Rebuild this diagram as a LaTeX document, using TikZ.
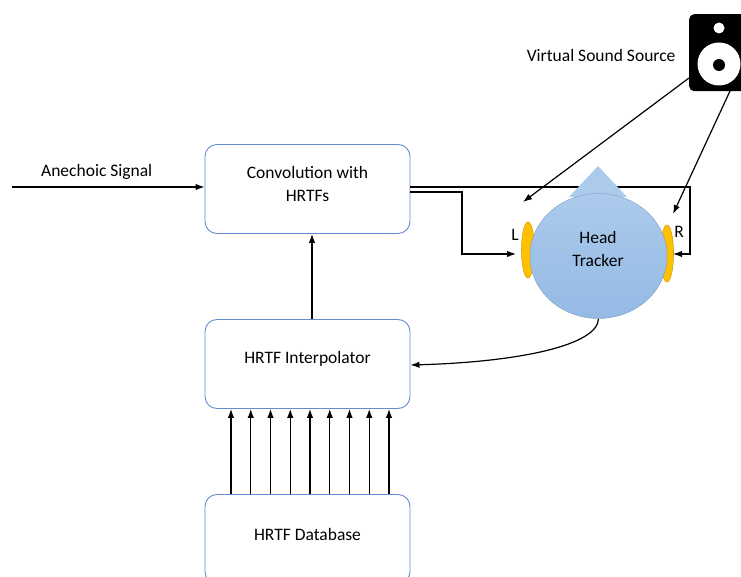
\documentclass[tikz,border=0pt]{standalone}
\usepackage{fontspec}
\setmainfont{Carlito}
\usetikzlibrary{positioning, arrows.meta, shapes.geometric}

\definecolor{boxblue}{RGB}{100,140,205}
\definecolor{headtop}{RGB}{172,202,236}
\definecolor{headbot}{RGB}{148,186,228}
\definecolor{earorange}{RGB}{255,192,0}
\definecolor{earedge}{RGB}{215,160,20}

\begin{document}
\begin{tikzpicture}[x=1pt, y=-1pt, node distance=175pt, on grid,
    font=\fontsize{17.5}{23}\selectfont,
    block/.style={draw=boxblue, line width=0.9pt, rounded corners=12pt,
      minimum width=205pt, minimum height=89pt},
    label text/.style={align=center, yshift=5pt},
    sig/.style={-{Latex[length=9pt, width=6.5pt]}, line width=1.2pt},
    ear/.style={fill=earorange, draw=earedge, line width=0.6pt}]
  \useasboundingbox (0,0) rectangle (741,577);

  \node[block] (conv) at (307.5,189) {};
  \node[block, below=of conv] (interp) {};
  \node[block, below=of interp] (db) {};
  \node[label text] at (conv.center) {Convolution with\\HRTFs};
  \node[label text] at (interp.center) {HRTF Interpolator};
  \node[label text] at (db.center) {HRTF Database};

  \coordinate (in) at (12,187);
  \draw[sig] (in) -- node[pos=0.44, yshift=15pt] {Anechoic Signal} (in -| conv.west);
  \draw[sig] (interp.north -| 312,0) -- (conv.south -| 312,0);
  \foreach \i in {0,...,8}
    \draw[sig] (db.north -| 231+19.75*\i,0) -- (interp.south -| 231+19.75*\i,0);

  % outputs to the ears, partly hidden by the head
  \draw[sig] ([yshift=2pt]conv.east) -- (690,187) -- (690,254) -- (673,254);
  \draw[sig] ([yshift=-3pt]conv.east) -- (462,192) -- (462,254) -- (516,254);

  % head with ears and nose
  \fill[headtop] (598,166) -- (569,197) -- (627,197) -- cycle;
  \draw[ear] (528,250) ellipse (6.5 and 28);
  \draw[ear] (667,253.5) ellipse (6.5 and 28.5);
  \node[ellipse, minimum width=137pt, minimum height=125pt,
    top color=headtop, bottom color=headbot, draw=headbot!85!black,
    line width=0.4pt, inner sep=0pt] (head) at (598.5,256) {};
  \node[align=center] (head text) at (598,249) {Head\\Tracker};
  \node (lab L) at (515,235) {L};
  \node (lab R) at (679,232) {R};

  % loudspeaker
  \node[fill=black, rounded corners=5pt, minimum width=62pt,
    minimum height=77pt, anchor=north west] (spk) at (689,14) {};
  \fill[white] (719,28) circle (5.5);
  \fill[white] (719,64) circle (21.5);
  \fill[black] (719,65) circle (6);
  \node[anchor=east] (vss) at (679,55) {Virtual Sound Source};

  \coordinate (earL) at (523,202);
  \coordinate (earR) at (673,214);
  \draw[sig] (689,78) -- (earL);
  \draw[sig] (730,91) -- (earR);

  \draw[sig] (head.south) .. controls (598,345) and (520,362) .. (interp.east |- 0,365);
\end{tikzpicture}
\end{document}
